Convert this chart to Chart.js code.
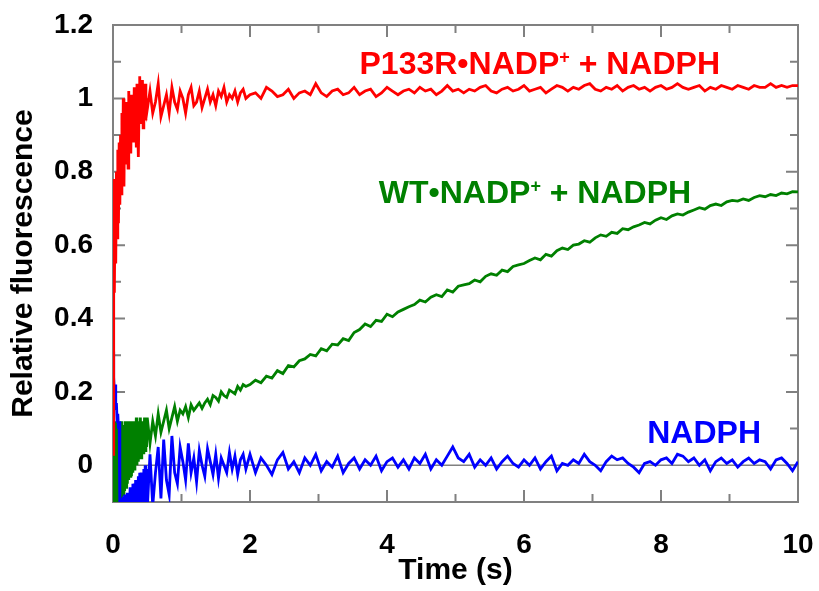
<!DOCTYPE html>
<html>
<head>
<meta charset="utf-8">
<script src="https://cdn.jsdelivr.net/npm/chart.js@4.4.1/dist/chart.umd.min.js"></script>
<style>
  html, body { margin: 0; padding: 0; background: #fff; }
  #chart { display: block; }
</style>
</head>
<body>
<canvas id="chart" width="819" height="591"></canvas>
<script>
// sample times (s)
const timeS = [
  0,0.01,0.02,0.03,0.04,0.05,0.06,0.07,0.08,0.09,
  0.1,0.11,0.12,0.13,0.14,0.15,0.16,0.17,0.18,0.19,
  0.2,0.21,0.22,0.23,0.24,0.25,0.26,0.27,0.28,0.29,
  0.3,0.31,0.32,0.33,0.34,0.35,0.36,0.37,0.38,0.39,
  0.4,0.41,0.42,0.43,0.44,0.45,0.46,0.47,0.48,0.49,0.5,
  0.54,0.58,0.62,0.66,0.7,0.74,0.78,0.82,0.86,0.9,
  0.94,0.98,1.02,1.06,1.1,1.14,1.18,1.22,1.26,1.3,
  1.34,1.38,1.42,1.46,1.5,1.54,1.58,1.62,1.66,1.7,
  1.74,1.78,1.82,1.86,1.9,1.94,
  2,2.08,2.16,2.24,2.32,2.4,2.48,2.56,2.64,2.72,
  2.8,2.88,2.96,3.04,3.12,3.2,3.28,3.36,3.44,3.52,
  3.6,3.68,3.76,3.84,3.92,4,4.08,4.16,4.24,4.32,
  4.4,4.48,4.56,4.64,4.72,4.8,4.88,4.96,5.04,5.12,
  5.2,5.28,5.36,5.44,5.52,5.6,5.68,5.76,5.84,5.92,
  6,6.08,6.16,6.24,6.32,6.4,6.48,6.56,6.64,6.72,
  6.8,6.88,6.96,7.04,7.12,7.2,7.28,7.36,7.44,7.52,
  7.6,7.68,7.76,7.84,7.92,8,8.08,8.16,8.24,8.32,
  8.4,8.48,8.56,8.64,8.72,8.8,8.88,8.96,9.04,9.12,
  9.2,9.28,9.36,9.44,9.52,9.6,9.68,9.76,9.84,9.92,
  10
];

// P133R·NADP+ + NADPH
const p133rFluor = [
  0.03,0.78,0.47,0.72,0.55,0.80,0.62,0.86,0.66,0.88,
  0.71,0.90,0.74,0.96,0.78,1.00,0.76,0.95,0.82,0.99,
  0.84,0.97,0.81,1.02,0.87,0.98,0.85,1.01,0.90,0.96,
  0.88,1.03,0.91,0.99,0.87,1.04,0.93,0.84,0.97,1.06,
  0.93,1.02,0.95,1.05,0.92,1.01,0.96,1.04,0.94,1.00,0.97,
  1.02,0.96,0.99,1.04,0.95,0.98,1.01,0.96,1.03,0.99,
  0.97,1.02,1.00,0.96,1.01,1.03,0.98,0.99,1.02,0.975,
  1.00,1.025,0.99,1.01,0.98,1.02,1.005,1.03,0.99,1.01,
  1.00,1.02,0.99,1.015,1.025,1.00,
  1.01,1.015,1.00,1.03,1.02,1.005,1.01,1.025,1.00,1.015,
  1.02,1.01,1.04,1.015,1.005,1.02,1.025,1.01,1.015,1.03,
  1.01,1.02,1.025,1.005,1.015,1.03,1.02,1.01,1.02,1.025,
  1.015,1.03,1.02,1.025,1.01,1.02,1.035,1.02,1.025,1.015,
  1.025,1.02,1.03,1.035,1.02,1.015,1.025,1.03,1.02,1.025,
  1.035,1.02,1.025,1.03,1.015,1.025,1.035,1.03,1.02,1.03,
  1.025,1.035,1.04,1.025,1.02,1.03,1.025,1.035,1.02,1.03,
  1.035,1.025,1.03,1.02,1.03,1.035,1.025,1.03,1.04,1.03,
  1.025,1.03,1.035,1.02,1.03,1.025,1.035,1.03,1.025,1.035,
  1.03,1.025,1.035,1.03,1.03,1.04,1.03,1.035,1.03,1.035,
  1.035
];

// WT·NADP+ + NADPH
const wtFluor = [
  0.20,-0.10,0.12,-0.12,0.10,-0.11,0.12,-0.13,0.11,-0.10,
  0.10,-0.11,0.12,-0.09,0.11,-0.08,0.10,-0.07,0.12,-0.06,
  0.11,-0.05,0.12,-0.04,0.10,-0.03,0.12,-0.03,0.11,-0.02,
  0.12,-0.01,0.11,0.00,0.13,0.00,0.11,0.01,0.12,0.02,
  0.13,0.02,0.11,0.03,0.12,0.03,0.13,0.04,0.12,0.05,0.13,
  0.06,0.12,0.08,0.14,0.09,0.12,0.15,0.10,0.13,0.16,
  0.12,0.15,0.14,0.16,0.13,0.165,0.15,0.16,0.17,0.155,
  0.17,0.18,0.165,0.19,0.185,0.175,0.20,0.19,0.185,0.205,
  0.20,0.195,0.215,0.205,0.22,0.215,
  0.22,0.232,0.225,0.243,0.238,0.258,0.25,0.272,0.268,0.285,
  0.29,0.302,0.298,0.318,0.312,0.33,0.328,0.345,0.34,0.362,
  0.37,0.385,0.378,0.395,0.392,0.412,0.405,0.418,0.425,0.432,
  0.438,0.45,0.445,0.458,0.465,0.46,0.478,0.472,0.488,0.492,
  0.495,0.505,0.50,0.515,0.522,0.518,0.532,0.528,0.542,0.546,
  0.55,0.558,0.565,0.56,0.575,0.57,0.585,0.592,0.588,0.60,
  0.603,0.612,0.608,0.62,0.628,0.624,0.635,0.632,0.645,0.642,
  0.65,0.655,0.662,0.658,0.668,0.675,0.67,0.68,0.685,0.682,
  0.69,0.696,0.702,0.698,0.708,0.712,0.708,0.718,0.722,0.72,
  0.726,0.722,0.73,0.735,0.732,0.738,0.735,0.742,0.74,0.746,
  0.745
];

// NADPH alone
const nadphFluor = [
  0.31,0.24,0.20,0.22,0.15,0.17,0.12,0.14,0.10,0.12,
  -0.13,-0.10,-0.14,-0.09,-0.12,-0.085,-0.14,-0.08,-0.12,-0.09,
  -0.13,-0.075,-0.12,-0.08,-0.14,-0.06,-0.12,-0.07,-0.13,-0.05,
  -0.12,-0.05,-0.14,-0.04,-0.11,-0.06,-0.13,-0.03,-0.12,-0.02,
  -0.13,-0.02,-0.11,-0.03,-0.14,-0.01,-0.12,0.00,-0.10,-0.01,-0.12,
  0.03,-0.11,-0.02,0.05,-0.09,0.07,-0.04,-0.08,0.08,-0.02,
  -0.05,0.05,0.01,-0.04,0.06,-0.02,0.02,-0.045,0.04,0.00,
  -0.03,0.045,0.01,-0.025,0.03,-0.035,0.02,0.00,-0.02,0.035,
  -0.01,0.025,-0.025,0.015,0.03,-0.01,
  0.03,-0.02,0.02,0.00,-0.025,0.015,0.035,-0.01,0.01,-0.02,
  0.02,0.00,0.03,-0.015,0.01,-0.005,0.025,-0.02,0.005,0.02,
  -0.01,0.015,0.00,0.025,-0.015,0.01,0.02,-0.005,0.015,-0.01,
  0.02,0.005,0.03,-0.01,0.015,0.00,0.025,0.05,0.02,0.01,
  0.03,-0.005,0.015,0.00,0.02,-0.01,0.01,0.025,0.005,-0.005,
  0.015,0.00,0.02,-0.01,0.01,0.025,-0.015,0.005,0.00,0.015,
  0.005,0.03,0.01,0.00,-0.015,0.01,0.025,0.015,0.02,0.005,
  -0.005,-0.02,0.005,0.01,0.00,0.015,0.02,0.005,0.03,0.025,
  0.01,0.02,0.00,0.015,-0.015,0.01,0.02,0.005,0.015,-0.005,
  0.01,0.02,0.005,0.015,0.01,-0.01,0.015,0.02,0.005,-0.015,
  0.01
];

const xTicksLabelled = [0, 2, 4, 6, 8, 10];
const yTicksLabelled = [0, 0.2, 0.4, 0.6, 0.8, 1, 1.2];

const fontFamily = '"Liberation Sans", Arial, Helvetica, sans-serif';
const frameColor = '#808080';

function pts(ys) {
  return timeS.map((t, i) => ({ x: t, y: ys[i] }));
}

// in-plot curve labels
const curveLabels = [
  { parts: [['P133R\u2022NADP', false], ['+', true], [' + NADPH', false]], x: 6.23, y: 1.098, color: '#ff0000' },
  { parts: [['WT\u2022NADP', false], ['+', true], [' + NADPH', false]], x: 6.16, y: 0.746, color: '#008000' },
  { parts: [['NADPH', false]], x: 8.63, y: 0.091, color: '#0000ff' }
];

const frameAndTicks = {
  id: 'frameAndTicks',
  beforeDatasetsDraw(chart) {
    const { ctx, chartArea: a, scales: { x, y } } = chart;
    ctx.save();
    ctx.strokeStyle = frameColor;

    // zero line
    const y0 = y.getPixelForValue(0);
    ctx.lineWidth = 1.5;
    ctx.beginPath();
    ctx.moveTo(a.left, y0);
    ctx.lineTo(a.right, y0);
    ctx.stroke();

    ctx.lineWidth = 2;
    ctx.strokeRect(a.left, a.top, a.right - a.left, a.bottom - a.top);

    // inward ticks, all four sides
    ctx.beginPath();
    x.ticks.forEach(t => {
      const px = x.getPixelForValue(t.value);
      const len = xTicksLabelled.includes(t.value) ? 12 : 8;
      ctx.moveTo(px, a.bottom); ctx.lineTo(px, a.bottom - len);
      ctx.moveTo(px, a.top); ctx.lineTo(px, a.top + len);
    });
    y.ticks.forEach(t => {
      const py = y.getPixelForValue(t.value);
      const major = Math.round(t.value * 10) % 2 === 0;
      const len = major ? 12 : 8;
      ctx.moveTo(a.left, py); ctx.lineTo(a.left + len, py);
      ctx.moveTo(a.right, py); ctx.lineTo(a.right - len, py);
    });
    ctx.stroke();
    ctx.restore();
  },
  afterDatasetsDraw(chart) {
    const { ctx, scales: { x, y } } = chart;
    const size = 32;
    const supSize = 18;
    ctx.save();
    ctx.textBaseline = 'alphabetic';
    curveLabels.forEach(lab => {
      let w = 0;
      lab.parts.forEach(([txt, sup]) => {
        ctx.font = `bold ${sup ? supSize : size}px ${fontFamily}`;
        w += ctx.measureText(txt).width;
      });
      const cx = x.getPixelForValue(lab.x);
      const cy = y.getPixelForValue(lab.y);
      const base = cy + size * 0.716 / 2;
      let px = cx - w / 2;
      ctx.fillStyle = lab.color;
      lab.parts.forEach(([txt, sup]) => {
        ctx.font = `bold ${sup ? supSize : size}px ${fontFamily}`;
        ctx.textAlign = 'left';
        ctx.fillText(txt, px, sup ? base - 11 : base);
        px += ctx.measureText(txt).width;
      });
    });
    ctx.restore();
  }
};

const lineStyle = { borderWidth: 2.8, pointRadius: 0, tension: 0, fill: false };

new Chart(document.getElementById('chart'), {
  type: 'line',
  data: {
    datasets: [
      { label: 'P133R·NADP+ + NADPH', data: pts(p133rFluor), borderColor: '#ff0000', ...lineStyle },
      { label: 'NADPH', data: pts(nadphFluor), borderColor: '#0000ff', ...lineStyle },
      { label: 'WT·NADP+ + NADPH', data: pts(wtFluor), borderColor: '#008000', ...lineStyle }
    ]
  },
  options: {
    responsive: false,
    animation: false,
    devicePixelRatio: 1,
    layout: { padding: { top: 25, right: 21, left: 0, bottom: 0 } },
    plugins: { legend: { display: false }, tooltip: { enabled: false } },
    scales: {
      x: {
        type: 'linear',
        min: 0,
        max: 10,
        grid: { display: false, drawTicks: false },
        border: { display: false },
        ticks: {
          stepSize: 1,
          autoSkip: false,
          maxRotation: 0,
          padding: 26,
          color: '#000',
          font: { family: fontFamily, size: 28, weight: 'bold' },
          callback: v => xTicksLabelled.includes(v) ? String(v) : ''
        },
        title: {
          display: true,
          text: 'Time (s)',
          color: '#000',
          font: { family: fontFamily, size: 30, weight: 'bold', lineHeight: 1 },
          padding: { top: 0, bottom: 5 }
        },
        afterFit: s => {
          s.height = 89;
          s.paddingLeft = 0;
          s.paddingRight = 0;
        }
      },
      y: {
        min: -0.1,
        max: 1.2,
        grid: { display: false, drawTicks: false },
        border: { display: false },
        ticks: {
          stepSize: 0.1,
          autoSkip: false,
          padding: 20,
          color: '#000',
          font: { family: fontFamily, size: 28, weight: 'bold' },
          callback: v => {
            const r = Math.round(v * 10) / 10;
            return yTicksLabelled.includes(r) ? String(r) : '';
          }
        },
        title: {
          display: true,
          text: 'Relative fluorescence',
          color: '#000',
          font: { family: fontFamily, size: 30, weight: 'bold', lineHeight: 1 },
          padding: { top: 9, bottom: 0 }
        },
        afterFit: s => {
          s.width = 113;
          s.paddingTop = 0;
          s.paddingBottom = 0;
        }
      }
    }
  },
  plugins: [frameAndTicks]
});
</script>
</body>
</html>
